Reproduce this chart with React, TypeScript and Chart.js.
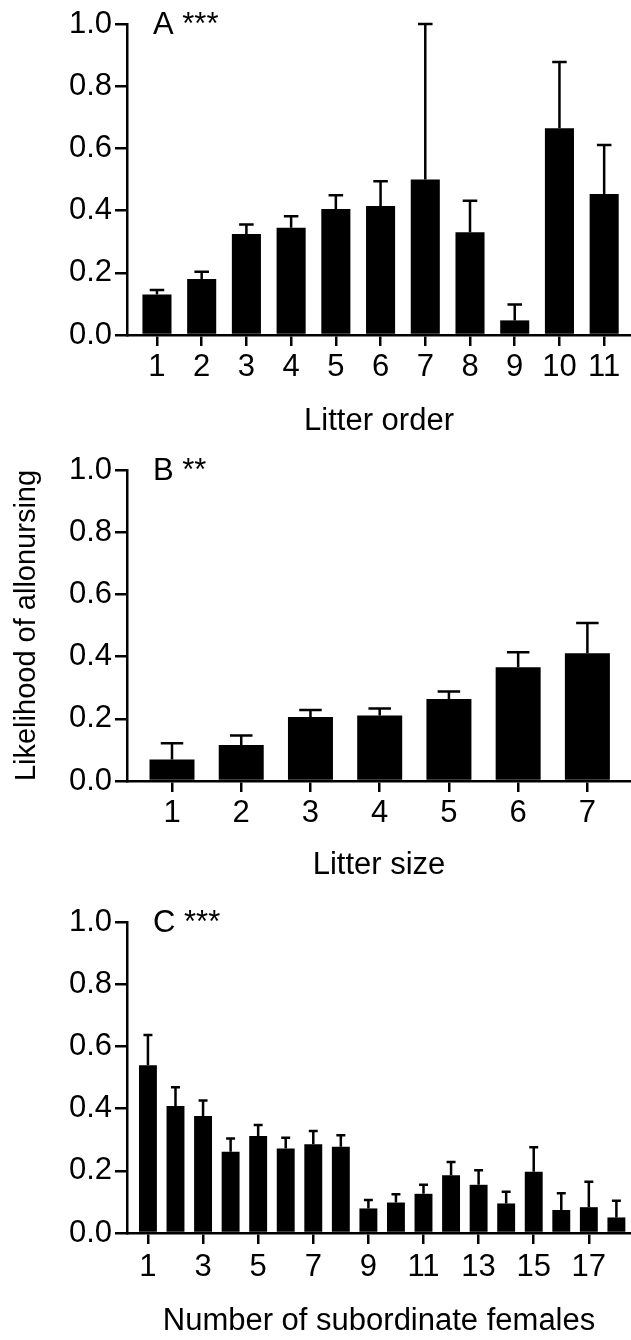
import React, { useEffect, useRef } from "react";
import { Chart, registerables } from "chart.js";

Chart.register(...registerables);

// ---------- Data ----------
const litterOrder = [1, 2, 3, 4, 5, 6, 7, 8, 9, 10, 11];
const litterOrderMean = [0.13, 0.18, 0.325, 0.345, 0.405, 0.415, 0.5, 0.33, 0.047, 0.665, 0.453];
const litterOrderSem = [0.015, 0.023, 0.03, 0.037, 0.044, 0.079, 0.5, 0.102, 0.051, 0.213, 0.158];
const litterOrderTicks = [1, 2, 3, 4, 5, 6, 7, 8, 9, 10, 11];

const litterSize = [1, 2, 3, 4, 5, 6, 7];
const litterSizeMean = [0.069, 0.116, 0.206, 0.211, 0.264, 0.366, 0.411];
const litterSizeSem = [0.052, 0.03, 0.022, 0.022, 0.024, 0.048, 0.097];
const litterSizeTicks = [1, 2, 3, 4, 5, 6, 7];

const subordinates = [1, 2, 3, 4, 5, 6, 7, 8, 9, 10, 11, 12, 13, 14, 15, 16, 17, 18];
const subordinatesMean = [0.539, 0.408, 0.376, 0.261, 0.312, 0.272, 0.285, 0.277, 0.079, 0.098, 0.126, 0.186, 0.155, 0.095, 0.197, 0.074, 0.083, 0.05];
const subordinatesSem = [0.098, 0.061, 0.05, 0.043, 0.035, 0.034, 0.043, 0.037, 0.027, 0.027, 0.029, 0.042, 0.047, 0.038, 0.079, 0.054, 0.082, 0.054];
const subordinatesTicks = [1, 3, 5, 7, 9, 11, 13, 15, 17];

const yTickStep = 0.2;
const yTitle = "Likelihood of allonursing";

// ---------- Styling ----------
const FONT = '"Liberation Sans", Arial, Helvetica, sans-serif';
const FS = 31;
const INK = "#000";
const W = 631;

const errorBarPlugin = {
  id: "errorBars",
  afterDatasetsDraw(chart: any) {
    const { ctx } = chart;
    const ys = chart.scales.y;
    chart.data.datasets.forEach((ds: any, di: number) => {
      const meta = chart.getDatasetMeta(di);
      meta.data.forEach((bar: any, i: number) => {
        const mean = ds.data[i].y;
        const e = ds.errors[i];
        const x = bar.x;
        const w = bar.width;
        const y0 = ys.getPixelForValue(mean);
        const y1 = ys.getPixelForValue(mean + e);
        ctx.save();
        ctx.strokeStyle = INK;
        ctx.lineWidth = 2.5;
        ctx.beginPath();
        ctx.moveTo(x, y0);
        ctx.lineTo(x, y1);
        ctx.moveTo(x - w / 4, y1);
        ctx.lineTo(x + w / 4, y1);
        ctx.stroke();
        ctx.restore();
      });
    });
  },
};

const panelLabelPlugin = {
  id: "panelLabel",
  afterDraw(chart: any, _args: any, opts: any) {
    if (!opts || !opts.text) return;
    const { ctx, chartArea } = chart;
    ctx.save();
    ctx.fillStyle = INK;
    ctx.font = `${FS}px ${FONT}`;
    ctx.textAlign = "left";
    ctx.textBaseline = "alphabetic";
    ctx.fillText(opts.text, chartArea.left + 26, chartArea.top + 10);
    ctx.restore();
  },
};

type PanelProps = {
  top: number;
  height: number;
  cats: number[];
  means: number[];
  sems: number[];
  ticks: number[];
  xMin: number;
  xMax: number;
  xTitle: string;
  label: string;
  showYTitle: boolean;
  titlePad: number;
  tickPad: number;
};

function Panel(p: PanelProps) {
  const ref = useRef<HTMLCanvasElement | null>(null);
  useEffect(() => {
    if (!ref.current) return;
    const plotTop = 24;
    const plotBottom = 335;
    const chart = new Chart(ref.current, {
      type: "bar",
      data: {
        datasets: [
          {
            data: p.cats.map((c, i) => ({ x: c, y: p.means[i] })),
            errors: p.sems,
            backgroundColor: INK,
            borderWidth: 0,
            barPercentage: 0.65,
            categoryPercentage: 1,
          } as any,
        ],
      },
      options: {
        animation: false,
        responsive: false,
        devicePixelRatio: 1,
        layout: { padding: { top: plotTop, left: 0, right: 0, bottom: 0 } },
        plugins: {
          legend: { display: false },
          tooltip: { enabled: false },
          panelLabel: { text: p.label },
        } as any,
        scales: {
          x: {
            type: "linear",
            offset: false,
            min: p.xMin,
            max: p.xMax,
            afterBuildTicks: (s: any) => {
              s.ticks = p.ticks.map((v) => ({ value: v }));
            },
            afterFit: (s: any) => {
              s.height = p.height - plotBottom;
              s.paddingLeft = 0;
              s.paddingRight = 0;
            },
            ticks: {
              color: INK,
              font: { family: FONT, size: FS },
              padding: p.tickPad,
              maxRotation: 0,
              autoSkip: false,
              callback: (v: any) => String(v),
            },
            grid: {
              display: true,
              offset: false,
              drawOnChartArea: false,
              drawTicks: true,
              tickLength: 11,
              color: INK,
              lineWidth: 2.5,
            },
            border: { display: true, color: INK, width: 2.5 },
            title: {
              display: true,
              text: p.xTitle,
              color: INK,
              font: { family: FONT, size: FS },
              padding: { top: 0, bottom: p.titlePad },
            },
          },
          y: {
            min: 0,
            max: 1,
            afterFit: (s: any) => {
              s.width = 127;
              s.paddingTop = 0;
              s.paddingBottom = 0;
            },
            ticks: {
              stepSize: yTickStep,
              color: INK,
              font: { family: FONT, size: FS },
              padding: 3,
              callback: (v: any) => Number(v).toFixed(1),
            },
            grid: {
              display: true,
              drawOnChartArea: false,
              drawTicks: true,
              tickLength: 12,
              color: INK,
              lineWidth: 2.5,
            },
            border: { display: true, color: INK, width: 2.5 },
            title: {
              display: p.showYTitle,
              text: yTitle,
              color: INK,
              font: { family: FONT, size: 29 },
              padding: { top: 10, bottom: 0 },
            },
          },
        },
      } as any,
      plugins: [errorBarPlugin, panelLabelPlugin],
    });
    return () => chart.destroy();
  }, []);
  return (
    <canvas
      ref={ref}
      width={W}
      height={p.height}
      style={{ position: "absolute", left: 0, top: p.top, display: "block" }}
    />
  );
}

export default function App() {
  return (
    <div
      style={{
        position: "absolute",
        left: 0,
        top: 0,
        width: W,
        height: 1340,
        background: "#fff",
        overflow: "hidden",
      }}
    >
      <Panel
        top={0}
        height={446}
        cats={litterOrder}
        means={litterOrderMean}
        sems={litterOrderSem}
        ticks={litterOrderTicks}
        xMin={0.33}
        xMax={11.6}
        xTitle="Litter order"
        label="A ***"
        showYTitle={false}
        titlePad={6}
        tickPad={3}
      />
      <Panel
        top={446}
        height={446}
        cats={litterSize}
        means={litterSizeMean}
        sems={litterSizeSem}
        ticks={litterSizeTicks}
        xMin={0.35}
        xMax={7.63}
        xTitle="Litter size"
        label="B **"
        showYTitle={true}
        titlePad={8}
        tickPad={3}
      />
      <Panel
        top={898}
        height={442}
        cats={subordinates}
        means={subordinatesMean}
        sems={subordinatesSem}
        ticks={subordinatesTicks}
        xMin={0.24}
        xMax={18.53}
        xTitle="Number of subordinate females"
        label="C ***"
        showYTitle={false}
        titlePad={0}
        tickPad={5}
      />
    </div>
  );
}
